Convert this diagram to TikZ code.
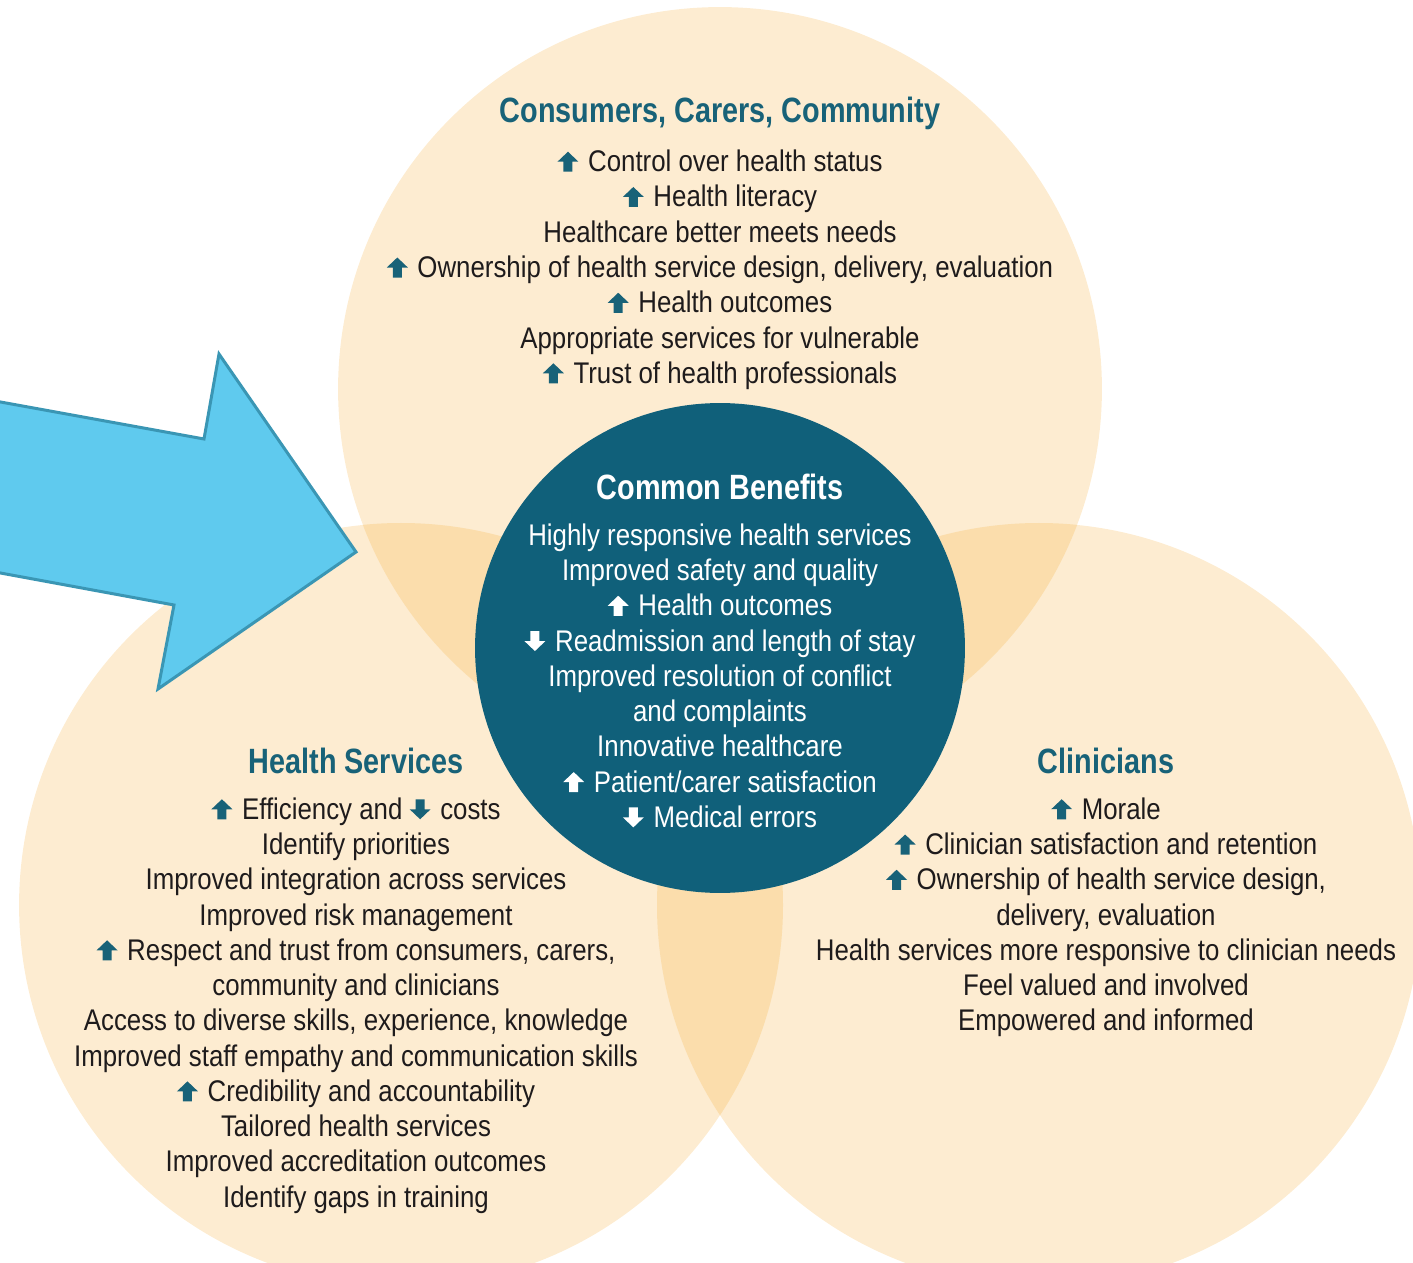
\documentclass[tikz,border=0pt]{standalone}
\usepackage{fontspec}
\setmainfont{Liberation Sans}[FakeStretch=0.865]
\newfontfamily\headfont{Liberation Sans}[FakeStretch=0.82]
\usepackage{xcolor}
\usetikzlibrary{positioning}

\definecolor{peach}{RGB}{253,236,209}
\definecolor{lens}{RGB}{251,221,172}
\definecolor{deepteal}{RGB}{16,96,122}
\definecolor{headteal}{RGB}{24,98,120}
\definecolor{inktext}{RGB}{30,27,28}
\definecolor{skyfill}{RGB}{95,202,238}
\definecolor{skyline}{RGB}{58,150,180}

% small block arrows used inside the lists
\newcommand{\upmark}[1][headteal]{\tikz[baseline=0pt,x=0.02cm,y=0.02cm]
  \fill[#1] (-4.5,0) -- (4.5,0) -- (4.5,10) -- (10.5,10) -- (0,20) -- (-10.5,10) -- (-4.5,10) -- cycle;\hspace{5.5pt}}
\newcommand{\downmark}[1][headteal]{\tikz[baseline=0pt,x=0.02cm,y=0.02cm]
  \fill[#1] (-4.5,20) -- (4.5,20) -- (4.5,10) -- (10.5,10) -- (0,0) -- (-10.5,10) -- (-4.5,10) -- cycle;\hspace{5.5pt}}

\begin{document}
\begin{tikzpicture}[
    x=0.02cm, y=-0.02cm,
    bigdisc/.style={circle, fill=peach, minimum size=15.28cm, inner sep=0pt},
    hubdisc/.style={circle, fill=deepteal, minimum size=9.8cm, inner sep=0pt},
    title/.style={font=\fontsize{20pt}{24pt}\headfont\bfseries, text=headteal, inner sep=0pt},
    list/.style={font=\fontsize{17pt}{20.07pt}\selectfont, text=inktext, align=center, inner sep=0pt},
]
\useasboundingbox (0,0) rectangle (1413,1263);

% the three groups
\node[bigdisc] (consumers) at (720,389) {};
\node[bigdisc] (services) at (401,905) {};
\node[bigdisc] (clinicians) at (1039,905) {};

% overlaps
\begin{scope}
  \clip (consumers.center) circle (382);
  \fill[lens] (services.center) circle (382);
  \fill[lens] (clinicians.center) circle (382);
\end{scope}
\begin{scope}
  \clip (services.center) circle (382);
  \fill[lens] (clinicians.center) circle (382);
\end{scope}

% pointer
\filldraw[fill=skyfill, draw=skyline, line width=0.06cm]
  (-5,401) -- (204,439) -- (219,354) -- (356,552) -- (158,689) -- (174,605) -- (-5,572) -- cycle;

\node[hubdisc] (common) at (720,648) {};

% headings
\node[title] (ccc-title) at (720,113) {Consumers, Carers, Community};
\node[title, text=white] (common-title) at (720,487) {Common Benefits};
\node[title] (hs-title) at (356,761) {Health Services};
\node[title] (clin-title) at (1106,761) {Clinicians};

% lists
\node[list, below=0.4cm of ccc-title] (ccc-list) {
  \upmark Control over health status\\
  \upmark Health literacy\\
  Healthcare better meets needs\\
  \upmark Ownership of health service design, delivery, evaluation\\
  \upmark Health outcomes\\
  Appropriate services for vulnerable\\
  \upmark Trust of health professionals};

\node[list, text=white, below=0.46cm of common-title] (common-list) {
  Highly responsive health services\\
  Improved safety and quality\\
  \upmark[white]Health outcomes\\
  \downmark[white]Readmission and length of stay\\
  Improved resolution of conflict\\
  and complaints\\
  Innovative healthcare\\
  \upmark[white]Patient/carer satisfaction\\
  \downmark[white]Medical errors};

\node[list, below=0.46cm of hs-title] (hs-list) {
  \upmark Efficiency and \downmark costs\\
  Identify priorities\\
  Improved integration across services\\
  Improved risk management\\
  \upmark Respect and trust from consumers, carers,\\
  community and clinicians\\
  Access to diverse skills, experience, knowledge\\
  Improved staff empathy and communication skills\\
  \upmark Credibility and accountability\\
  Tailored health services\\
  Improved accreditation outcomes\\
  Identify gaps in training};

\node[list, below=0.46cm of clin-title] (clin-list) {
  \upmark Morale\\
  \upmark Clinician satisfaction and retention\\
  \upmark Ownership of health service design,\\
  delivery, evaluation\\
  Health services more responsive to clinician needs\\
  Feel valued and involved\\
  Empowered and informed};

\end{tikzpicture}
\end{document}
